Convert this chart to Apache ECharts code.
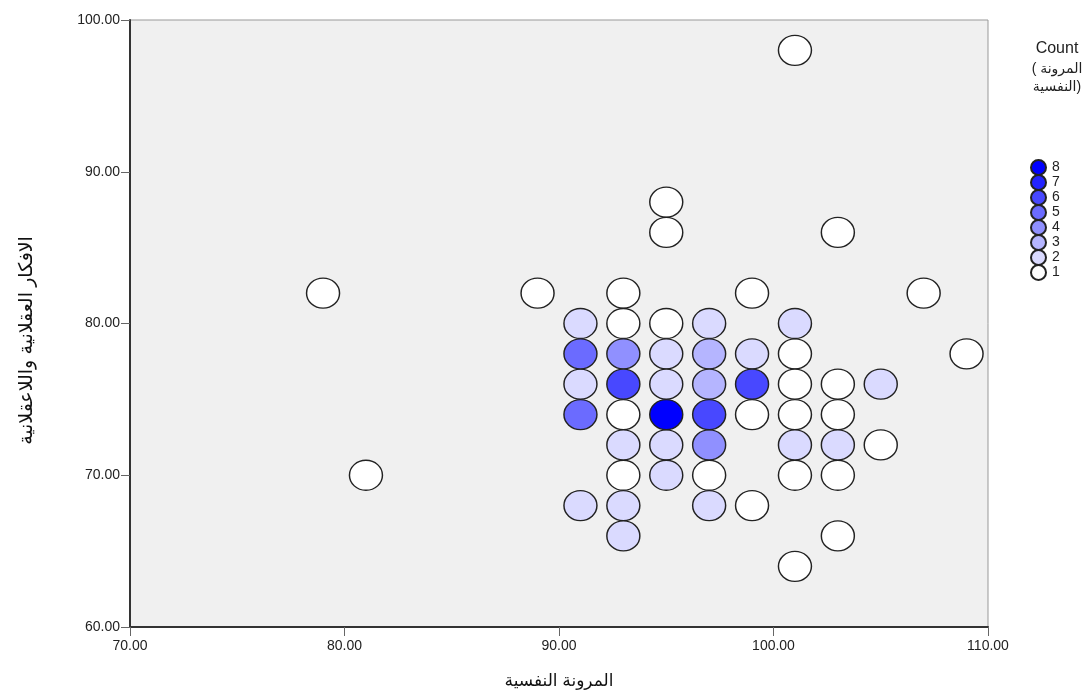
<!DOCTYPE html>
<html>
<head>
<meta charset="utf-8">
<title>scatter</title>
<script src="https://cdn.jsdelivr.net/npm/echarts@6/dist/echarts.min.js"></script>
<style>
  html, body { margin: 0; padding: 0; background: #fff; }
  #chart { width: 1087px; height: 695px; }
</style>
</head>
<body>
<div id="chart"></div>
<script>
  // data
  var xVals  = [79, 81, 89, 91, 91, 91, 91, 91, 93, 93, 93, 93, 93, 93, 93, 93, 93, 95, 95, 95, 95, 95, 95, 95, 95, 97, 97, 97, 97, 97, 97, 97, 99, 99, 99, 99, 99, 101, 101, 101, 101, 101, 101, 101, 101, 103, 103, 103, 103, 103, 103, 105, 105, 107, 109];
  var yVals  = [82, 70, 82, 80, 78, 76, 74, 68, 82, 80, 78, 76, 74, 72, 70, 68, 66, 88, 86, 80, 78, 76, 74, 72, 70, 80, 78, 76, 74, 72, 70, 68, 82, 78, 76, 74, 68, 98, 80, 78, 76, 74, 72, 70, 64, 86, 76, 74, 72, 70, 66, 76, 72, 82, 78];
  var counts = [1, 1, 1, 2, 5, 2, 5, 2, 1, 1, 4, 6, 1, 2, 1, 2, 2, 1, 1, 1, 2, 2, 8, 2, 2, 2, 3, 3, 6, 4, 1, 2, 1, 2, 6, 1, 1, 1, 2, 1, 1, 1, 2, 1, 1, 1, 1, 1, 2, 1, 1, 2, 1, 1, 1];

  var countLevels = [1, 2, 3, 4, 5, 6, 7, 8];
  var countColors = ['#ffffff', '#dadaff', '#b5b5ff', '#9090ff', '#6b6bff', '#4848ff', '#2424ff', '#0000ff'];

  var xTicks = [70, 80, 90, 100, 110];
  var yTicks = [60, 70, 80, 90, 100];

  var xTitle = 'المرونة النفسية';
  var yTitle = 'الافكار العقلانية واللاعقلانية';
  // canvas lays these lines out right-to-left, so the brackets are written mirrored
  var legendTitle = ['( المرونة', 'النفسية)'];

  var font = '"Liberation Sans", "DejaVu Sans", sans-serif';

  var chart = echarts.init(document.getElementById('chart'));

  // one series per count so the legend gets bordered circles
  var series = countLevels.map(function (lvl, i) {
    var pts = [];
    for (var k = 0; k < xVals.length; k++) {
      if (counts[k] === lvl) pts.push([xVals[k], yVals[k]]);
    }
    return {
      name: String(lvl),
      type: 'scatter',
      data: pts,
      symbol: 'circle',
      symbolSize: [33, 30],
      itemStyle: {
        color: countColors[i],
        borderColor: '#222',
        borderWidth: 1.4,
        opacity: 1
      },
      emphasis: { disabled: true }
    };
  });

  var option = {
    animation: false,
    textStyle: { fontFamily: font },
    grid: {
      left: 130,
      right: 99,
      top: 20,
      bottom: 67,
      show: true,
      backgroundColor: '#f0f0f0',
      borderColor: '#999',
      borderWidth: 1
    },
    xAxis: {
      type: 'value',
      min: xTicks[0],
      max: xTicks[xTicks.length - 1],
      interval: 10,
      name: xTitle,
      nameLocation: 'middle',
      nameGap: 46,
      nameTextStyle: { fontSize: 17, color: '#111', fontFamily: font },
      axisLine: { show: true, lineStyle: { color: '#333', width: 2 } },
      axisTick: { show: true, length: 9, lineStyle: { color: '#666', width: 1 } },
      axisLabel: {
        fontSize: 14, color: '#222', margin: 12,
        formatter: function (v) { return v.toFixed(2); }
      },
      splitLine: { show: false }
    },
    yAxis: {
      type: 'value',
      min: yTicks[0],
      max: yTicks[yTicks.length - 1],
      interval: 10,
      name: yTitle,
      nameLocation: 'middle',
      nameGap: 94,
      nameRotate: 90,
      nameTextStyle: { fontSize: 19, color: '#111', fontFamily: font, padding: [0, 34, 0, 0] },
      axisLine: { show: true, lineStyle: { color: '#333', width: 2 } },
      axisTick: { show: true, length: 9, lineStyle: { color: '#666', width: 1 } },
      axisLabel: {
        fontSize: 14, color: '#222', margin: 10,
        formatter: function (v) { return v.toFixed(2); }
      },
      splitLine: { show: false }
    },
    legend: {
      orient: 'vertical',
      left: 1030,
      top: 159,
      padding: 0,
      data: countLevels.slice().reverse().map(String),
      icon: 'circle',
      itemWidth: 17,
      itemHeight: 15,
      itemGap: -2,
      selectedMode: false,
      textStyle: { fontSize: 14, color: '#222', lineHeight: 15, padding: [0, 0, 0, 0] }
    },
    graphic: [{
      type: 'text',
      x: 1057,
      y: 41,
      style: {
        text: 'Count',
        font: '16px ' + font,
        fill: '#222',
        align: 'center'
      }
    }, {
      type: 'text',
      x: 1057,
      y: 60,
      style: {
        text: legendTitle.join('\n'),
        font: '14px ' + font,
        fill: '#222',
        align: 'center',
        lineHeight: 18
      }
    }],
    series: series
  };

  chart.setOption(option);
</script>
</body>
</html>
